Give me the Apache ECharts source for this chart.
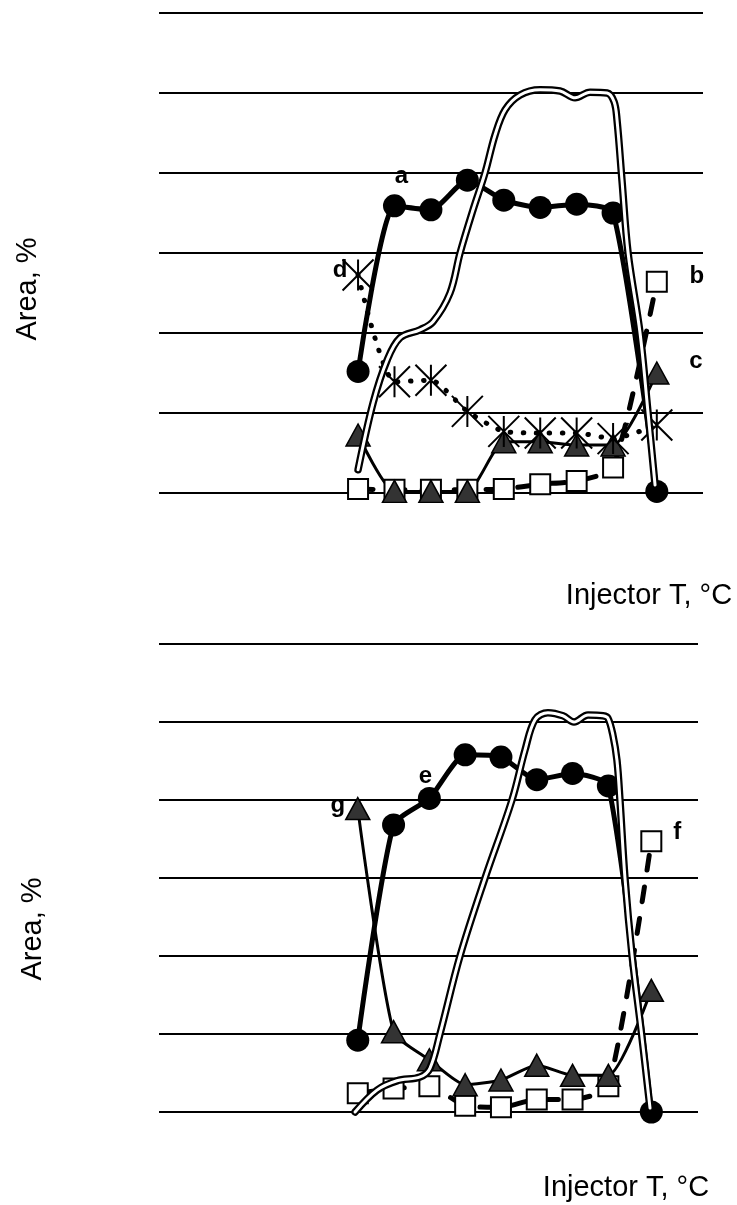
<!DOCTYPE html>
<html>
<head>
<meta charset="utf-8">
<script src="https://cdn.jsdelivr.net/npm/echarts@6/dist/echarts.min.js"></script>
<style>
html, body { margin: 0; padding: 0; background: #fff; }
#chart { width: 737px; height: 1205px; }
</style>
</head>
<body>
<div id="chart"></div>
<script>
// Injector temperatures of the measured points (°C)
const temps = [150, 175, 200, 225, 250, 275, 300, 325, 355];

// Upper panel: peak areas, %
const seriesA = [15.2, 35.9, 35.4, 39.1, 36.6, 35.7, 36.1, 35.0, 0.2];
const seriesB = [0.5, 0.4, 0.4, 0.4, 0.5, 1.1, 1.5, 3.2, 26.4];
const seriesC = [7.25, 0.2, 0.2, 0.2, 6.4, 6.4, 6.0, 6.0, 15.0];
const seriesD = [27.25, 13.9, 14.1, 10.2, 7.7, 7.5, 7.5, 6.8, 8.5];
// Upper panel: curve h
const hUpperT = [150, 160.3, 169.9, 178.8, 192.5, 201.4, 213.1, 220, 228.9, 237.1, 244, 250.9, 261.2, 274.9, 288.6, 298.9, 309.2, 320.9, 325.7, 327.7, 331.1, 335.3, 343.5, 349, 353.8];
const hUpperV = [2.9, 11.25, 16.6, 19.4, 20.4, 21.4, 25, 30, 35.4, 40, 44.75, 47.9, 49.75, 50.4, 50.25, 49.4, 50.1, 50, 48.9, 46.6, 39.1, 30, 20, 10, 1];

// Lower panel: peak areas, %
const seriesE = [9.2, 36.8, 40.2, 45.8, 45.5, 42.6, 43.4, 41.8, 0.0];
const seriesF = [2.4, 3.0, 3.3, 0.8, 0.6, 1.6, 1.6, 3.3, 34.7];
const seriesG = [38.9, 10.3, 6.7, 3.5, 4.1, 6.0, 4.7, 4.7, 15.6];
// Lower panel: curve h
const hLowerT = [148.1, 163.4, 177.4, 193.5, 200.4, 207.4, 221.4, 238.9, 257.7, 266.8, 273.8, 282.8, 293.3, 301, 310.8, 321.3, 324.7, 328.2, 331, 333.1, 336.6, 341.6, 348.2, 354.1];
const hLowerV = [0, 2.8, 4.0, 4.5, 5.6, 10, 20, 30, 40, 46.4, 50.3, 51.2, 50.8, 50, 50.9, 50.8, 50.5, 48.3, 45.1, 40, 30, 20, 10, 0.5];

// Axis titles
const yTitle = 'Area, %';
const xTitle = 'Injector T, °C';

const FONT = '"Liberation Sans", Arial, sans-serif';

function pairs(xs, ys) { return xs.map((x, i) => [x, ys[i]]); }

// Put a bold letter next to one point of a series
function tagged(data, idx, text, offset) {
  const out = data.slice();
  out[idx] = {
    value: out[idx],
    label: {
      show: true, formatter: text, position: 'inside', offset: offset,
      fontSize: 24, fontWeight: 'bold', color: '#000', fontFamily: FONT
    }
  };
  return out;
}

const circle = { symbol: 'circle', symbolSize: 23, itemStyle: { color: '#000' } };
const square = { symbol: 'rect', symbolSize: 20, itemStyle: { color: '#fff', borderColor: '#000', borderWidth: 2 } };
const triangle = { symbol: 'triangle', symbolSize: [24, 22], itemStyle: { color: '#333', borderColor: '#000', borderWidth: 1.5 } };
const star = {
  symbol: 'path://M0,0L30,30M30,0L0,30M15,0L15,30',
  symbolSize: 31,
  itemStyle: { color: 'none', borderColor: '#000', borderWidth: 2 }
};

function markSeries(idx, data, marker, line) {
  return Object.assign({
    type: 'line', xAxisIndex: idx, yAxisIndex: idx,
    data: data, smooth: 0.2, clip: false, showAllSymbol: true,
    lineStyle: Object.assign({ color: '#000', cap: 'round', join: 'round' }, line),
    emphasis: { disabled: true }, z: 3
  }, marker);
}

function doubleLine(idx, data) {
  return [
    { type: 'line', xAxisIndex: idx, yAxisIndex: idx, data: data, smooth: 0.35, symbol: 'none', clip: false,
      lineStyle: { color: '#000', width: 7.5, cap: 'round', join: 'round' }, emphasis: { disabled: true }, z: 4 },
    { type: 'line', xAxisIndex: idx, yAxisIndex: idx,
      data: data.map(d => (d && d.value) ? d.value : d), smooth: 0.35, symbol: 'none', clip: false,
      lineStyle: { color: '#fff', width: 3, cap: 'round', join: 'round' }, emphasis: { disabled: true }, z: 5 }
  ];
}

const yAxisBase = {
  type: 'value', min: 0, max: 60, interval: 10,
  axisLabel: { show: false }, axisTick: { show: false }, axisLine: { show: false },
  splitLine: { show: true, lineStyle: { color: '#000', width: 2 } }
};

const chart = echarts.init(document.getElementById('chart'), null, { renderer: 'canvas' });

const titleFont = '29px ' + FONT;

chart.setOption({
  animation: false,
  backgroundColor: '#fff',
  grid: [
    { left: 159, right: 34, top: 13, height: 480 },
    { left: 159, right: 39, top: 644, height: 468 }
  ],
  xAxis: [
    { type: 'value', gridIndex: 0, min: 13.4, max: 386.7, show: false },
    { type: 'value', gridIndex: 1, min: 11.2, max: 387.6, show: false }
  ],
  yAxis: [
    Object.assign({ gridIndex: 0 }, yAxisBase),
    Object.assign({ gridIndex: 1 }, yAxisBase)
  ],
  graphic: [
    { type: 'text', x: 28, y: 289, rotation: Math.PI / 2,
      style: { text: yTitle, font: titleFont, fill: '#000', align: 'center', verticalAlign: 'middle' } },
    { type: 'text', x: 33, y: 929, rotation: Math.PI / 2,
      style: { text: yTitle, font: titleFont, fill: '#000', align: 'center', verticalAlign: 'middle' } },
    { type: 'text', x: 649, y: 596,
      style: { text: xTitle, font: titleFont, fill: '#000', align: 'center', verticalAlign: 'middle' } },
    { type: 'text', x: 626, y: 1188,
      style: { text: xTitle, font: titleFont, fill: '#000', align: 'center', verticalAlign: 'middle' } }
  ],
  series: [
    // upper panel
    markSeries(0, tagged(pairs(temps, seriesB), 8, 'b', [40, -5]), square, { width: 5, type: [15, 17] }),
    markSeries(0, tagged(pairs(temps, seriesC), 8, 'c', [39, -12]), triangle, { width: 3 }),
    markSeries(0, tagged(pairs(temps, seriesA), 1, 'a', [7, -29]), circle, { width: 5 }),
    markSeries(0, tagged(pairs(temps, seriesD), 0, 'd', [-18, -5]), star, { width: 5, type: [0.5, 12.5] }),
    ...doubleLine(0, tagged(pairs(hUpperT, hUpperV), 15, 'h', [1, -13])),
    // lower panel
    markSeries(1, tagged(pairs(temps, seriesF), 8, 'f', [26, -9]), square, { width: 5, type: [15, 17] }),
    markSeries(1, tagged(pairs(temps, seriesG), 0, 'g', [-20, -3]), triangle, { width: 3 }),
    markSeries(1, tagged(pairs(temps, seriesE), 2, 'e', [-4, -22]), circle, { width: 5 }),
    ...doubleLine(1, tagged(pairs(hLowerT, hLowerV), 13, 'h', [1, -17]))
  ]
});
</script>
</body>
</html>
